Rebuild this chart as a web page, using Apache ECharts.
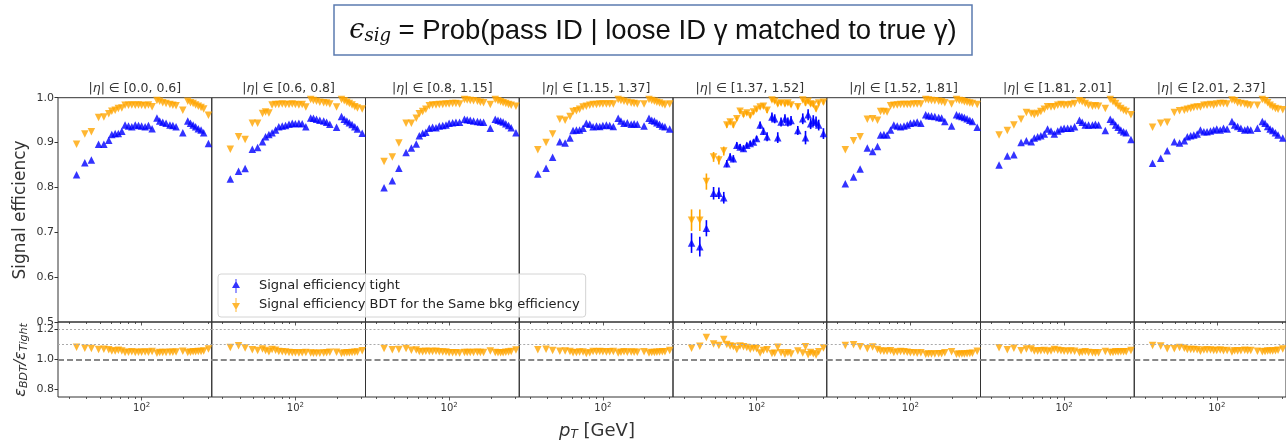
<!DOCTYPE html>
<html>
<head>
<meta charset="utf-8">
<script src="https://cdn.jsdelivr.net/npm/echarts@6/dist/echarts.min.js"></script>
<style>
  html, body { margin: 0; padding: 0; background: #fff; }
  #chart { width: 1286px; height: 442px; }
</style>
</head>
<body>
<div id="chart"></div>
<script>
// |eta| bins, one panel each
const etaBins = [['0.0', '0.6'], ['0.6', '0.8'], ['0.8', '1.15'], ['1.15', '1.37'],
  ['1.37', '1.52'], ['1.52', '1.81'], ['1.81', '2.01'], ['2.01', '2.37']]

// pT bin centres [GeV], shared by every panel
const ptBins = [34, 39, 43.5, 49, 53.5, 58, 61, 64.5, 68, 72, 76, 80.5, 85, 90, 95, 100, 106, 112,
  119, 129, 135, 142, 150, 160, 168, 177, 198, 215, 225, 235, 245, 256, 268, 280, 303]

const ptMajorTicks = [100]
const ptMinorTicks = [30, 40, 50, 60, 70, 80, 90, 200, 300]
const effTicks = [0.5, 0.6, 0.7, 0.8, 0.9, 1.0]
const ratioTicks = [0.8, 1.0, 1.2]

// signal efficiency, tight ID
const tight1 = [0.828, 0.855, 0.861, 0.896, 0.896, 0.905, 0.918, 0.920, 0.920, 0.925, 0.939, 0.937, 0.935, 0.939, 0.938, 0.937, 0.935, 0.938,
  0.931, 0.955, 0.948, 0.945, 0.943, 0.939, 0.938, 0.935, 0.922, 0.948, 0.943, 0.939, 0.935, 0.931, 0.928, 0.922, 0.898]
const tight2 = [0.819, 0.836, 0.842, 0.885, 0.889, 0.902, 0.913, 0.918, 0.922, 0.928, 0.935, 0.937, 0.938, 0.941, 0.943, 0.942, 0.943, 0.942,
  0.935, 0.955, 0.954, 0.952, 0.950, 0.948, 0.945, 0.941, 0.934, 0.958, 0.952, 0.948, 0.944, 0.940, 0.935, 0.930, 0.921]
const tight3 = [0.799, 0.815, 0.843, 0.878, 0.888, 0.897, 0.915, 0.921, 0.923, 0.932, 0.934, 0.933, 0.937, 0.938, 0.939, 0.943, 0.944, 0.945,
  0.945, 0.952, 0.951, 0.950, 0.948, 0.947, 0.946, 0.945, 0.932, 0.952, 0.950, 0.948, 0.946, 0.942, 0.938, 0.933, 0.922]
const tight4 = [0.830, 0.843, 0.867, 0.902, 0.899, 0.910, 0.927, 0.928, 0.928, 0.932, 0.943, 0.941, 0.935, 0.937, 0.936, 0.938, 0.939, 0.938,
  0.936, 0.954, 0.948, 0.943, 0.944, 0.941, 0.942, 0.941, 0.937, 0.954, 0.950, 0.948, 0.944, 0.941, 0.937, 0.935, 0.930]
const tight5 = [0.676, 0.668, 0.709, 0.787, 0.787, 0.777, 0.853, 0.868, 0.864, 0.894, 0.890, 0.887, 0.894, 0.898, 0.901, 0.909, 0.939, 0.925,
  0.913, 0.957, 0.953, 0.911, 0.946, 0.953, 0.946, 0.949, 0.927, 0.953, 0.911, 0.962, 0.942, 0.949, 0.946, 0.939, 0.920]
const tight6 = [0.808, 0.823, 0.841, 0.888, 0.880, 0.891, 0.917, 0.918, 0.917, 0.928, 0.939, 0.937, 0.935, 0.937, 0.939, 0.943, 0.944, 0.946,
  0.943, 0.962, 0.960, 0.959, 0.958, 0.956, 0.955, 0.947, 0.937, 0.962, 0.960, 0.958, 0.956, 0.953, 0.950, 0.947, 0.934]
const tight7 = [0.850, 0.870, 0.873, 0.900, 0.904, 0.902, 0.910, 0.913, 0.915, 0.919, 0.930, 0.926, 0.919, 0.926, 0.930, 0.932, 0.932, 0.932,
  0.935, 0.950, 0.945, 0.939, 0.939, 0.939, 0.941, 0.939, 0.927, 0.952, 0.947, 0.939, 0.934, 0.928, 0.924, 0.922, 0.907]
const tight8 = [0.854, 0.865, 0.882, 0.902, 0.899, 0.904, 0.913, 0.915, 0.917, 0.919, 0.928, 0.924, 0.924, 0.926, 0.928, 0.930, 0.928, 0.932,
  0.930, 0.947, 0.939, 0.936, 0.932, 0.928, 0.930, 0.928, 0.932, 0.947, 0.943, 0.936, 0.930, 0.927, 0.922, 0.917, 0.910]

// signal efficiency, BDT at the same background efficiency
const bdt1 = [0.896, 0.919, 0.924, 0.956, 0.957, 0.964, 0.970, 0.972, 0.976, 0.977, 0.983, 0.983, 0.984, 0.983, 0.984, 0.983, 0.982, 0.984,
  0.980, 0.994, 0.992, 0.989, 0.987, 0.985, 0.983, 0.982, 0.972, 0.992, 0.989, 0.987, 0.984, 0.981, 0.978, 0.975, 0.961]
const bdt2 = [0.885, 0.913, 0.907, 0.943, 0.943, 0.965, 0.968, 0.966, 0.984, 0.985, 0.985, 0.986, 0.985, 0.985, 0.986, 0.985, 0.984, 0.985,
  0.979, 0.996, 0.994, 0.992, 0.990, 0.989, 0.988, 0.986, 0.979, 0.996, 0.993, 0.990, 0.987, 0.984, 0.980, 0.977, 0.975]
const bdt3 = [0.858, 0.868, 0.899, 0.943, 0.943, 0.954, 0.964, 0.969, 0.974, 0.982, 0.984, 0.984, 0.985, 0.985, 0.986, 0.986, 0.987, 0.987,
  0.986, 0.996, 0.995, 0.994, 0.993, 0.992, 0.990, 0.989, 0.985, 0.996, 0.993, 0.991, 0.989, 0.987, 0.985, 0.983, 0.981]
const bdt4 = [0.884, 0.900, 0.919, 0.952, 0.950, 0.958, 0.969, 0.971, 0.974, 0.979, 0.981, 0.983, 0.985, 0.985, 0.986, 0.986, 0.986, 0.986,
  0.986, 0.996, 0.994, 0.992, 0.990, 0.988, 0.987, 0.986, 0.986, 0.996, 0.994, 0.992, 0.990, 0.988, 0.986, 0.984, 0.986]
const bdt5 = [0.727, 0.727, 0.813, 0.868, 0.861, 0.881, 0.939, 0.946, 0.939, 0.953, 0.970, 0.962, 0.966, 0.960, 0.968, 0.974, 0.979, 0.981,
  0.972, 0.995, 0.992, 0.986, 0.988, 0.986, 0.988, 0.984, 0.980, 0.995, 0.988, 0.992, 0.986, 0.985, 0.975, 0.988, 0.990]
const bdt6 = [0.884, 0.904, 0.913, 0.952, 0.953, 0.950, 0.969, 0.969, 0.968, 0.982, 0.983, 0.984, 0.985, 0.985, 0.985, 0.985, 0.986, 0.986,
  0.986, 0.996, 0.995, 0.994, 0.993, 0.992, 0.991, 0.989, 0.986, 0.996, 0.994, 0.993, 0.991, 0.990, 0.988, 0.987, 0.985]
const bdt7 = [0.917, 0.927, 0.939, 0.952, 0.967, 0.965, 0.962, 0.965, 0.969, 0.974, 0.980, 0.979, 0.980, 0.983, 0.985, 0.983, 0.984, 0.985,
  0.987, 0.993, 0.991, 0.987, 0.983, 0.981, 0.982, 0.981, 0.976, 0.996, 0.991, 0.987, 0.981, 0.976, 0.972, 0.969, 0.962]
const bdt8 = [0.934, 0.943, 0.945, 0.967, 0.971, 0.972, 0.974, 0.976, 0.978, 0.979, 0.979, 0.983, 0.983, 0.985, 0.983, 0.986, 0.987, 0.987,
  0.986, 0.995, 0.993, 0.989, 0.987, 0.986, 0.984, 0.983, 0.983, 0.996, 0.993, 0.989, 0.983, 0.979, 0.976, 0.974, 0.973]

// only the crack region (1.37-1.52) has visible error bars
const tightErr5 = [0.022, 0.022, 0.018, 0.014, 0.013, 0.013, 0.008, 0.008, 0.008, 0.007, 0.007, 0.007, 0.006, 0.006, 0.006, 0.006, 0.008, 0.008,
  0.01, 0.01, 0.01, 0.012, 0.01, 0.01, 0.01, 0.01, 0.01, 0.012, 0.015, 0.012, 0.012, 0.012, 0.012, 0.012, 0.012]
const bdtErr5 = [0.024, 0.024, 0.018, 0.011, 0.01, 0.01, 0.006, 0.006, 0.006, 0.005, 0.005, 0.005, 0.005, 0.005, 0.005, 0.005, 0.005, 0.005,
  0.006, 0.004, 0.004, 0.005, 0.005, 0.005, 0.005, 0.005, 0.006, 0.004, 0.006, 0.005, 0.005, 0.005, 0.006, 0.005, 0.005]

const tightSets = [tight1, tight2, tight3, tight4, tight5, tight6, tight7, tight8]
const bdtSets = [bdt1, bdt2, bdt3, bdt4, bdt5, bdt6, bdt7, bdt8]
const errSets = { 4: [tightErr5, bdtErr5] }

const TIGHT_NAME = 'Signal efficiency tight'
const BDT_NAME = 'Signal efficiency BDT for the Same bkg efficiency'
const BLUE = '#0000ff'
const ORANGE = '#ffa500'
const INK = '#333'
const FONT = '"DejaVu Sans", sans-serif'
const MARK = 7.5

const PANEL_X0 = 58
const PANEL_W = 153.75
const TOP_Y = 97.7
const TOP_H = 224.3
const BOT_Y = 322
const BOT_H = 75
const PT_MIN = 25
const PT_MAX = 320

const grid = []
const xAxis = []
const yAxis = []
const series = []
const graphic = []

const ptAxis = (gridIndex, ticks, len, withLabels) => ({
  type: 'log',
  logBase: 10,
  gridIndex,
  min: PT_MIN,
  max: PT_MAX,
  position: 'bottom',
  axisLine: { show: false },
  splitLine: { show: false },
  axisTick: { show: true, customValues: ticks, length: len, lineStyle: { color: INK, width: 0.8 } },
  axisLabel: {
    show: withLabels,
    customValues: ticks,
    margin: 5,
    formatter: (v) => '{b|10}{s|' + Math.round(Math.log10(v)) + '}',
    rich: {
      b: { fontFamily: FONT, fontSize: 10, color: INK },
      s: { fontFamily: FONT, fontSize: 7, color: INK, verticalAlign: 'top', padding: [0, 0, 6, 0] },
    },
  },
})

const errorBars = (xIdx, yIdx, vals, errs, color) => ({
  type: 'custom',
  xAxisIndex: xIdx,
  yAxisIndex: yIdx,
  silent: true,
  z: 1,
  data: ptBins.map((p, k) => [p, vals[k] - errs[k], vals[k] + errs[k]]),
  renderItem: (params, api) => {
    const a = api.coord([api.value(0), api.value(1)])
    const b = api.coord([api.value(0), api.value(2)])
    return {
      type: 'line',
      shape: { x1: a[0], y1: a[1], x2: b[0], y2: b[1] },
      style: { stroke: color, lineWidth: 1.6 },
    }
  },
})

for (let i = 0; i < etaBins.length; i++) {
  const left = PANEL_X0 + i * PANEL_W
  const first = i === 0
  const tight = tightSets[i]
  const bdt = bdtSets[i]

  grid.push({ left, top: TOP_Y, width: PANEL_W, height: TOP_H, show: true, borderColor: INK, borderWidth: 1 })
  grid.push({ left, top: BOT_Y, width: PANEL_W, height: BOT_H, show: true, borderColor: INK, borderWidth: 1 })

  // 4 x axes per panel: top major/minor, bottom major/minor
  xAxis.push(ptAxis(2 * i, ptMajorTicks, 3.5, false))
  xAxis.push(ptAxis(2 * i, ptMinorTicks, 2, false))
  xAxis.push(ptAxis(2 * i + 1, ptMajorTicks, 3.5, true))
  xAxis.push(ptAxis(2 * i + 1, ptMinorTicks, 2, false))

  yAxis.push({
    type: 'value',
    gridIndex: 2 * i,
    min: 0.5,
    max: 1.0,
    axisLine: { show: false },
    splitLine: { show: false },
    axisTick: { show: first, customValues: effTicks, length: 3.5, lineStyle: { color: INK } },
    axisLabel: { show: first, customValues: effTicks, margin: 4, fontFamily: FONT, fontSize: 11, color: INK, formatter: (v) => v.toFixed(1) },
  })
  yAxis.push({
    type: 'value',
    gridIndex: 2 * i + 1,
    min: 0.75,
    max: 1.25,
    axisLine: { show: false },
    splitLine: { show: false },
    axisTick: { show: first, customValues: ratioTicks, length: 3.5, lineStyle: { color: INK } },
    axisLabel: { show: first, customValues: ratioTicks, margin: 4, fontFamily: FONT, fontSize: 11, color: INK, formatter: (v) => v.toFixed(1) },
  })

  const errs = errSets[i]
  if (errs) {
    series.push(errorBars(4 * i, 2 * i, tight, errs[0], BLUE))
  }
  series.push({
    name: TIGHT_NAME,
    type: 'scatter',
    xAxisIndex: 4 * i,
    yAxisIndex: 2 * i,
    symbol: 'triangle',
    symbolSize: MARK,
    itemStyle: { color: BLUE },
    z: 2,
    data: ptBins.map((p, k) => [p, tight[k]]),
  })
  if (errs) {
    series.push(errorBars(4 * i, 2 * i, bdt, errs[1], ORANGE))
  }
  series.push({
    name: BDT_NAME,
    type: 'scatter',
    xAxisIndex: 4 * i,
    yAxisIndex: 2 * i,
    symbol: 'triangle',
    symbolRotate: 180,
    symbolSize: MARK,
    itemStyle: { color: ORANGE },
    z: 3,
    data: ptBins.map((p, k) => [p, bdt[k]]),
  })
  series.push({
    name: BDT_NAME,
    type: 'scatter',
    xAxisIndex: 4 * i + 2,
    yAxisIndex: 2 * i + 1,
    symbol: 'triangle',
    symbolRotate: 180,
    symbolSize: MARK,
    itemStyle: { color: ORANGE },
    z: 3,
    data: ptBins.map((p, k) => [p, bdt[k] / tight[k]]),
    markLine: {
      silent: true,
      symbol: ['none', 'none'],
      label: { show: false },
      animation: false,
      data: [
        { yAxis: 1.2, lineStyle: { color: '#aaa', type: [2, 2], width: 1 } },
        { yAxis: 1.1, lineStyle: { color: '#aaa', type: [2, 2], width: 1 } },
        { yAxis: 1.0, lineStyle: { color: '#888', type: [6, 3], width: 1.8 } },
      ],
    },
  })

  graphic.push({
    type: 'text',
    x: left + PANEL_W / 2,
    y: 89,
    style: {
      text: '|{it|η}| ∈ [' + etaBins[i][0] + ', ' + etaBins[i][1] + ']',
      fontFamily: FONT,
      fontSize: 12.5,
      fill: INK,
      align: 'center',
      verticalAlign: 'middle',
      rich: { it: { fontFamily: FONT, fontStyle: 'italic', fontSize: 12.5, fill: INK } },
    },
  })
}

// headline box
graphic.push({
  type: 'rect',
  shape: { x: 334, y: 5, width: 638, height: 50 },
  style: { fill: '#fff', stroke: '#5b7bb0', lineWidth: 1.5 },
})
graphic.push({
  type: 'text',
  x: 653,
  y: 31,
  style: {
    text: '{e|ϵ}{s|sig} = Prob(pass ID | loose ID γ matched to true γ)',
    fontFamily: '"Liberation Sans", Arial, sans-serif',
    fontSize: 27.5,
    fill: '#111',
    align: 'center',
    verticalAlign: 'middle',
    rich: {
      e: { fontFamily: '"DejaVu Serif", serif', fontStyle: 'italic', fontSize: 27, fill: '#111' },
      s: { fontFamily: '"DejaVu Serif", serif', fontStyle: 'italic', fontSize: 18, fill: '#111', padding: [11, 0, 0, 0] },
    },
  },
})

// axis titles
graphic.push({
  type: 'text',
  x: 21,
  y: 210,
  rotation: Math.PI / 2,
  style: { text: 'Signal efficiency', fontFamily: FONT, fontSize: 17, fill: INK, align: 'center', verticalAlign: 'middle' },
})
graphic.push({
  type: 'text',
  x: 21,
  y: 360,
  rotation: Math.PI / 2,
  style: {
    text: '{e|ε}{s|BDT}{e|/ε}{s|Tight}',
    fontFamily: FONT,
    fontSize: 16,
    fill: INK,
    align: 'center',
    verticalAlign: 'middle',
    rich: {
      e: { fontFamily: FONT, fontStyle: 'italic', fontSize: 16, fill: INK },
      s: { fontFamily: FONT, fontStyle: 'italic', fontSize: 11, fill: INK, padding: [7, 0, 0, 0] },
    },
  },
})
graphic.push({
  type: 'text',
  x: 597,
  y: 431,
  style: {
    text: '{p|p}{s|T} [GeV]',
    fontFamily: FONT,
    fontSize: 18,
    fill: INK,
    align: 'center',
    verticalAlign: 'middle',
    rich: {
      p: { fontFamily: FONT, fontStyle: 'italic', fontSize: 18, fill: INK },
      s: { fontFamily: FONT, fontStyle: 'italic', fontSize: 12, fill: INK, padding: [8, 0, 0, 0] },
    },
  },
})

const chart = echarts.init(document.getElementById('chart'), null, { renderer: 'canvas' })
chart.setOption({
  animation: false,
  backgroundColor: '#fff',
  grid,
  xAxis,
  yAxis,
  series,
  graphic,
  legend: {
    orient: 'vertical',
    left: 218,
    top: 274,
    itemGap: 5,
    itemWidth: 8,
    itemHeight: 14,
    padding: [5, 6, 5, 14],
    backgroundColor: 'rgba(255,255,255,0.8)',
    borderColor: '#d4d4d4',
    borderWidth: 1,
    borderRadius: 3,
    selectedMode: false,
    textStyle: { fontFamily: FONT, fontSize: 13, color: '#222', padding: [0, 0, 0, 14] },
    data: [
      { name: TIGHT_NAME, icon: 'path://M4,0L5,0L5,14L4,14Z M4.5,2L8.5,9L0.5,9Z' },
      { name: BDT_NAME, icon: 'path://M4,0L5,0L5,14L4,14Z M0.5,5L8.5,5L4.5,12Z' },
    ],
  },
})
</script>
</body>
</html>
